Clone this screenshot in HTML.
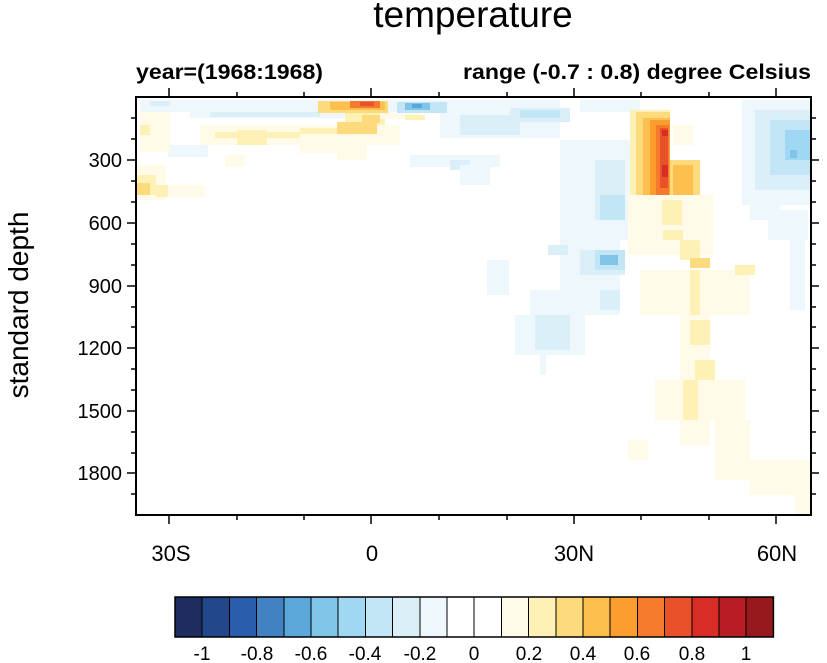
<!DOCTYPE html>
<html><head><meta charset="utf-8"><style>
html,body{margin:0;padding:0;background:#fff;}
svg{display:block;font-family:"Liberation Sans",sans-serif;}
</style></head><body>
<svg width="827" height="663" viewBox="0 0 827 663" xmlns="http://www.w3.org/2000/svg">
<text x="473" y="27" font-size="37" text-anchor="middle">temperature</text>
<text x="136" y="79" font-size="21" font-weight="bold" textLength="187" lengthAdjust="spacingAndGlyphs">year=(1968:1968)</text>
<text x="463" y="79" font-size="21" font-weight="bold" textLength="348" lengthAdjust="spacingAndGlyphs">range (-0.7 : 0.8) degree Celsius</text>

<g shape-rendering="crispEdges">
<rect x="140" y="100" width="420" height="12" fill="#eef8fc"/>
<rect x="150" y="101" width="20" height="5" fill="#dbeff8"/>
<rect x="190" y="110" width="200" height="8" fill="#eef8fc"/>
<rect x="210" y="112" width="110" height="5" fill="#dbeff8"/>
<rect x="440" y="108" width="120" height="30" fill="#eef8fc"/>
<rect x="460" y="115" width="60" height="20" fill="#dbeff8"/>
<rect x="510" y="108" width="60" height="14" fill="#dbeff8"/>
<rect x="520" y="110" width="40" height="8" fill="#c3e6f6"/>
<rect x="168" y="145" width="40" height="12" fill="#eef8fc"/>
<rect x="410" y="155" width="90" height="12" fill="#eef8fc"/>
<rect x="450" y="160" width="20" height="10" fill="#dbeff8"/>
<rect x="460" y="165" width="30" height="20" fill="#eef8fc"/>
<rect x="397" y="102" width="50" height="11" fill="#c3e6f6"/>
<rect x="405" y="103" width="25" height="7" fill="#80c4e8"/>
<rect x="412" y="104" width="10" height="4" fill="#5aa8da"/>
<rect x="318" y="101" width="70" height="12" fill="#fddb7c"/>
<rect x="330" y="102" width="55" height="8" fill="#fdbf4e"/>
<rect x="350" y="101" width="30" height="7" fill="#f57a2b"/>
<rect x="360" y="102" width="14" height="4" fill="#e9512a"/>
<rect x="345" y="113" width="40" height="12" fill="#fef1b6"/>
<rect x="362" y="115" width="18" height="8" fill="#fddb7c"/>
<rect x="380" y="113" width="40" height="6" fill="#fffbe8"/>
<rect x="405" y="115" width="20" height="5" fill="#fef1b6"/>
<rect x="140" y="112" width="30" height="40" fill="#fffbe8"/>
<rect x="140" y="125" width="10" height="10" fill="#fef1b6"/>
<rect x="200" y="125" width="200" height="20" fill="#fffbe8"/>
<rect x="215" y="132" width="120" height="6" fill="#fef1b6"/>
<rect x="237" y="130" width="30" height="15" fill="#fef1b6"/>
<rect x="300" y="128" width="60" height="25" fill="#fffbe8"/>
<rect x="300" y="128" width="60" height="6" fill="#fef1b6"/>
<rect x="337" y="122" width="40" height="12" fill="#fddb7c"/>
<rect x="337" y="140" width="30" height="20" fill="#fffbe8"/>
<rect x="225" y="155" width="20" height="12" fill="#fffbe8"/>
<rect x="136" y="165" width="30" height="35" fill="#fffbe8"/>
<rect x="136" y="175" width="20" height="20" fill="#fef1b6"/>
<rect x="136" y="183" width="14" height="12" fill="#fddb7c"/>
<rect x="160" y="185" width="45" height="12" fill="#fffbe8"/>
<rect x="156" y="185" width="12" height="12" fill="#fef1b6"/>
<rect x="580" y="100" width="60" height="12" fill="#eef8fc"/>
<rect x="560" y="140" width="70" height="100" fill="#eef8fc"/>
<rect x="595" y="160" width="30" height="60" fill="#dbeff8"/>
<rect x="600" y="195" width="25" height="25" fill="#c3e6f6"/>
<rect x="560" y="240" width="60" height="50" fill="#eef8fc"/>
<rect x="580" y="250" width="45" height="25" fill="#dbeff8"/>
<rect x="595" y="250" width="30" height="20" fill="#c3e6f6"/>
<rect x="600" y="255" width="18" height="10" fill="#80c4e8"/>
<rect x="548" y="245" width="20" height="10" fill="#dbeff8"/>
<rect x="530" y="290" width="90" height="25" fill="#eef8fc"/>
<rect x="600" y="290" width="20" height="20" fill="#dbeff8"/>
<rect x="515" y="315" width="70" height="40" fill="#eef8fc"/>
<rect x="535" y="315" width="35" height="35" fill="#dbeff8"/>
<rect x="540" y="355" width="6" height="20" fill="#eef8fc"/>
<rect x="487" y="260" width="22" height="35" fill="#eef8fc"/>
<rect x="628" y="195" width="85" height="60" fill="#fffbe8"/>
<rect x="662" y="200" width="20" height="25" fill="#fef1b6"/>
<rect x="663" y="230" width="20" height="10" fill="#fef1b6"/>
<rect x="680" y="240" width="20" height="20" fill="#fef1b6"/>
<rect x="690" y="258" width="20" height="10" fill="#fddb7c"/>
<rect x="640" y="270" width="110" height="45" fill="#fffbe8"/>
<rect x="690" y="270" width="10" height="60" fill="#fef1b6"/>
<rect x="735" y="265" width="20" height="10" fill="#fef1b6"/>
<rect x="680" y="315" width="30" height="130" fill="#fffbe8"/>
<rect x="690" y="320" width="20" height="25" fill="#fef1b6"/>
<rect x="695" y="360" width="20" height="20" fill="#fef1b6"/>
<rect x="655" y="380" width="90" height="40" fill="#fffbe8"/>
<rect x="683" y="380" width="15" height="40" fill="#fef1b6"/>
<rect x="715" y="420" width="35" height="40" fill="#fffbe8"/>
<rect x="628" y="440" width="20" height="20" fill="#fffbe8"/>
<rect x="750" y="460" width="61" height="35" fill="#fffbe8"/>
<rect x="795" y="495" width="16" height="20" fill="#fffbe8"/>
<rect x="715" y="460" width="40" height="20" fill="#fffbe8"/>
<rect x="742" y="100" width="69" height="105" fill="#eef8fc"/>
<rect x="755" y="110" width="56" height="80" fill="#dbeff8"/>
<rect x="770" y="120" width="41" height="55" fill="#c3e6f6"/>
<rect x="785" y="130" width="26" height="30" fill="#a0d8f3"/>
<rect x="790" y="150" width="7" height="8" fill="#80c4e8"/>
<rect x="750" y="200" width="30" height="20" fill="#eef8fc"/>
<rect x="768" y="210" width="40" height="30" fill="#eef8fc"/>
<rect x="790" y="240" width="15" height="70" fill="#eef8fc"/>
<rect x="630" y="110" width="40" height="85" fill="#fef1b6"/>
<rect x="636" y="112" width="34" height="83" fill="#fddb7c"/>
<rect x="643" y="118" width="27" height="77" fill="#fdbf4e"/>
<rect x="670" y="160" width="30" height="35" fill="#fddb7c"/>
<rect x="673" y="165" width="20" height="30" fill="#fdbf4e"/>
<rect x="650" y="120" width="20" height="75" fill="#fc9e2f"/>
<rect x="656" y="125" width="13" height="70" fill="#f57a2b"/>
<rect x="660" y="128" width="8" height="60" fill="#e9512a"/>
<rect x="662" y="130" width="6" height="6" fill="#d82c26"/>
<rect x="662" y="165" width="6" height="12" fill="#d82c26"/>
<rect x="673" y="125" width="20" height="20" fill="#fffbe8"/>
</g>

<rect x="136" y="97" width="675" height="418" fill="none" stroke="#000" stroke-width="2"/>
<g stroke="#000" stroke-width="1.5">
<path d="M136 160h-9M136 223h-9M136 286h-9M136 348h-9M136 411h-9M136 473h-9 M811 160h8M811 223h8M811 286h8M811 348h8M811 411h8M811 473h8"/>
<path d="M136 118h-5M136 139h-5M136 181h-5M136 202h-5M136 244h-5M136 265h-5M136 307h-5M136 327h-5M136 369h-5M136 390h-5M136 432h-5M136 453h-5M136 494h-5 M811 118h5M811 139h5M811 181h5M811 202h5M811 244h5M811 265h5M811 307h5M811 327h5M811 369h5M811 390h5M811 432h5M811 453h5M811 494h5"/>
<path d="M169 515v9M371 515v9M574 515v9M776 515v9 M169 97v-9M371 97v-9M574 97v-9M776 97v-9"/>
<path d="M237 515v5M304 515v5M439 515v5M507 515v5M641 515v5M709 515v5 M237 97v-5M304 97v-5M439 97v-5M507 97v-5M641 97v-5M709 97v-5"/>
</g>
<g font-size="20" text-anchor="end">
<text x="122" y="167">300</text><text x="122" y="230">600</text><text x="122" y="293">900</text>
<text x="122" y="355">1200</text><text x="122" y="418">1500</text><text x="122" y="480">1800</text>
</g>
<g font-size="22" text-anchor="middle">
<text x="171" y="561">30S</text><text x="372" y="561">0</text><text x="574" y="561">30N</text><text x="777" y="561">60N</text>
</g>
<text transform="translate(28,305) rotate(-90)" font-size="28" text-anchor="middle">standard depth</text>

<g stroke="#000" stroke-width="1" shape-rendering="crispEdges">
<rect x="175" y="597" width="27.2" height="40" fill="#1f2d5e"/>
<rect x="202.2" y="597" width="27.2" height="40" fill="#22478a"/>
<rect x="229.4" y="597" width="27.2" height="40" fill="#2a5eac"/>
<rect x="256.6" y="597" width="27.2" height="40" fill="#4282c2"/>
<rect x="283.8" y="597" width="27.2" height="40" fill="#5aa8da"/>
<rect x="311" y="597" width="27.2" height="40" fill="#80c4e8"/>
<rect x="338.2" y="597" width="27.2" height="40" fill="#a0d8f3"/>
<rect x="365.4" y="597" width="27.2" height="40" fill="#c3e6f6"/>
<rect x="392.6" y="597" width="27.2" height="40" fill="#dbeff8"/>
<rect x="419.8" y="597" width="27.2" height="40" fill="#eef8fc"/>
<rect x="447" y="597" width="27.2" height="40" fill="#fff"/>
<rect x="474.2" y="597" width="27.2" height="40" fill="#fff"/>
<rect x="501.4" y="597" width="27.2" height="40" fill="#fffbe8"/>
<rect x="528.6" y="597" width="27.2" height="40" fill="#fef1b6"/>
<rect x="555.8" y="597" width="27.2" height="40" fill="#fddb7c"/>
<rect x="583" y="597" width="27.2" height="40" fill="#fdbf4e"/>
<rect x="610.2" y="597" width="27.2" height="40" fill="#fc9e2f"/>
<rect x="637.4" y="597" width="27.2" height="40" fill="#f57a2b"/>
<rect x="664.6" y="597" width="27.2" height="40" fill="#e9512a"/>
<rect x="691.8" y="597" width="27.2" height="40" fill="#d82c26"/>
<rect x="719" y="597" width="27.2" height="40" fill="#b81d24"/>
<rect x="746.2" y="597" width="27.2" height="40" fill="#961a1d"/>
</g>
<rect x="175" y="597" width="598.4" height="40" fill="none" stroke="#000" stroke-width="1.5"/>
<g font-size="19" text-anchor="middle">
<text x="202" y="660">-1</text><text x="257" y="660">-0.8</text><text x="311" y="660">-0.6</text>
<text x="365" y="660">-0.4</text><text x="420" y="660">-0.2</text><text x="474" y="660">0</text>
<text x="529" y="660">0.2</text><text x="583" y="660">0.4</text><text x="637" y="660">0.6</text>
<text x="692" y="660">0.8</text><text x="746" y="660">1</text>
</g>
</svg>
</body></html>
